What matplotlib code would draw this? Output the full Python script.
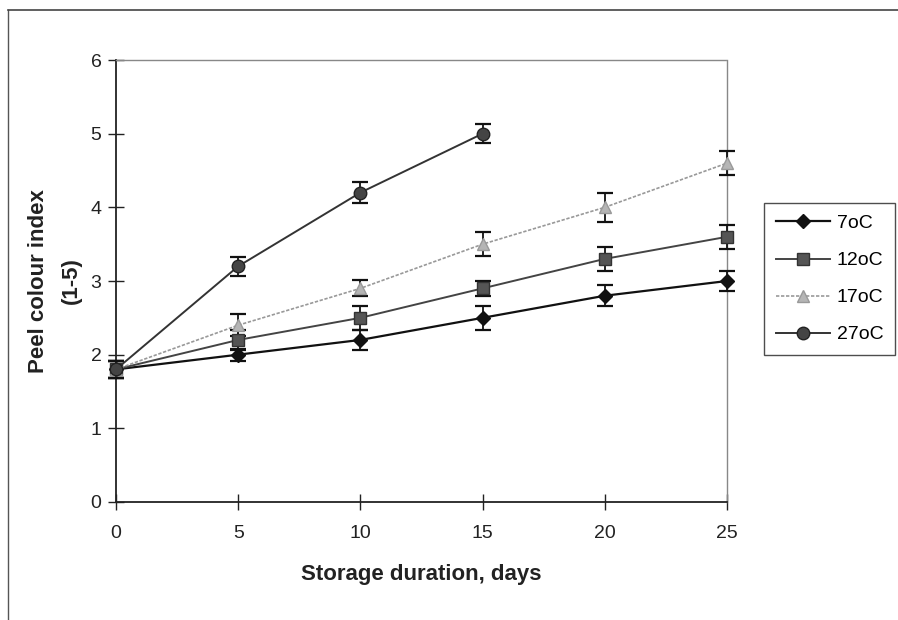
import numpy as np
import matplotlib
matplotlib.use("Agg")
import matplotlib.pyplot as plt
from matplotlib.lines import Line2D

plt.rcParams['font.family'] = ['Liberation Sans', 'DejaVu Sans']

days = [0, 5, 10, 15, 20, 25]

c7 = [1.8, 2.0, 2.2, 2.5, 2.8, 3.0]
c7_err = [0.12, 0.08, 0.14, 0.16, 0.14, 0.14]
c12 = [1.8, 2.2, 2.5, 2.9, 3.3, 3.6]
c12_err = [0.12, 0.14, 0.16, 0.1, 0.16, 0.16]
c17 = [1.8, 2.4, 2.9, 3.5, 4.0, 4.6]
c17_err = [0.12, 0.15, 0.11, 0.16, 0.2, 0.16]
c27 = [1.8, 3.2, 4.2, 5.0]
c27_err = [0.12, 0.13, 0.14, 0.13]

labels = ['7oC', '12oC', '17oC', '27oC']

fig = plt.figure(figsize=(8.98, 6.2), dpi=100)
ax = fig.add_axes([116 / 898, 1 - 502 / 620, (727 - 116) / 898, (502 - 60) / 620])

# outer frame (only top and left visible in the scan)
fig.add_artist(Line2D([8 / 898, 8 / 898], [0, 1 - 10 / 620], transform=fig.transFigure,
                      color='#555555', lw=1.0))
fig.add_artist(Line2D([8 / 898, 1], [1 - 10 / 620, 1 - 10 / 620], transform=fig.transFigure,
                      color='#444444', lw=1.2))

styles = [
    dict(marker='D', ms=7, color='#111111', mfc='#111111', mec='#111111', ls='-', lw=1.6),
    dict(marker='s', ms=8, color='#444444', mfc='#555555', mec='#333333', ls='-', lw=1.4),
    dict(marker='^', ms=8, color='#999999', mfc='#b5b5b5', mec='#999999', ls=(0, (2, 1)), lw=1.2),
    dict(marker='o', ms=9, color='#333333', mfc='#444444', mec='#222222', ls='-', lw=1.4),
]
series = [(days, c7, c7_err), (days, c12, c12_err), (days, c17, c17_err), (days[:4], c27, c27_err)]

handles = []
for (x, y, e), st, lab in zip(series, styles, labels):
    ax.errorbar(x, y, yerr=e, fmt='none', ecolor='#111111', elinewidth=1.3,
                capsize=6, capthick=1.6, clip_on=False, zorder=3)
    h, = ax.plot(x, y, label=lab, clip_on=False, zorder=4, **st)
    handles.append(h)

ax.set_xlim(0, 25)
ax.set_ylim(0, 6)
ax.set_xticks(days)
ax.set_yticks(range(7))
ax.tick_params(direction='inout', length=11, width=1, labelsize=14, colors='#222222')
ax.tick_params(axis='x', pad=11)
ax.tick_params(axis='y', pad=5)

for s in ['left', 'bottom']:
    ax.spines[s].set_color('#222222')
    ax.spines[s].set_linewidth(1.3)
for s in ['top', 'right']:
    ax.spines[s].set_color('#888888')
    ax.spines[s].set_linewidth(1.0)
    ax.spines[s].set_linestyle((0, (1, 1)))

ax.set_xlabel('Storage duration, days', fontsize=16, fontweight='bold', labelpad=16, color='#222222')
ax.set_ylabel('Peel colour index\n(1-5)', fontsize=16, fontweight='bold', labelpad=6,
              linespacing=1.75, color='#222222')

leg = fig.legend(handles=handles, loc='upper left', bbox_to_anchor=(764 / 898, 1 - 203 / 620),
                 fontsize=14, frameon=True, fancybox=False, handlelength=2.8,
                 labelspacing=1.0, borderpad=0.6, handletextpad=0.35, borderaxespad=0)
leg.get_frame().set_edgecolor('#222222')
leg.get_frame().set_linewidth(1.0)

fig.savefig('out.png', dpi=100)
